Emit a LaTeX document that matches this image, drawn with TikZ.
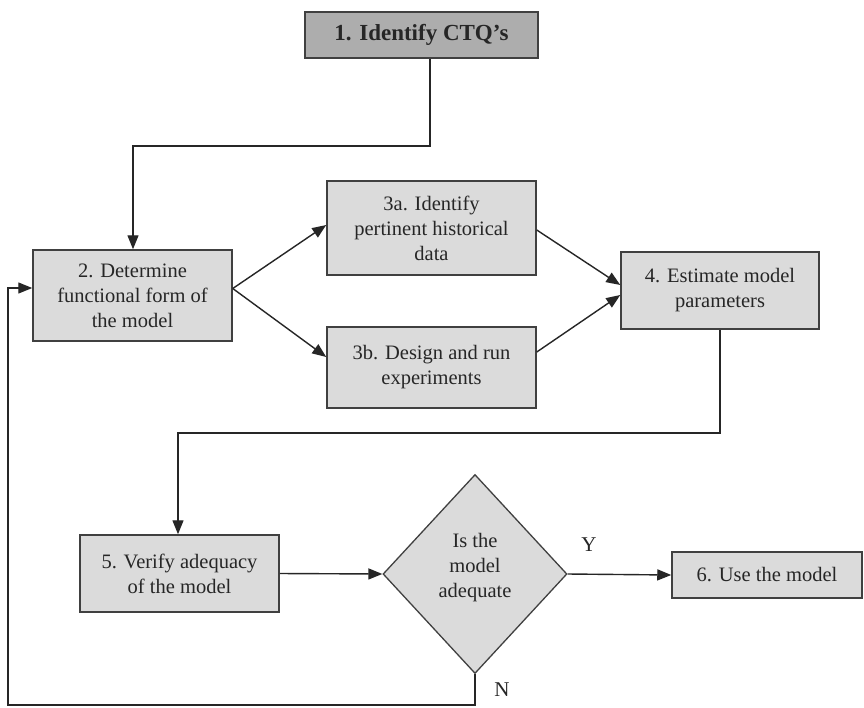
\documentclass[tikz,border=0pt]{standalone}
\usepackage{fontspec}
\setmainfont{Liberation Serif}
\usetikzlibrary{arrows.meta,shapes.geometric}
\begin{document}
\begin{tikzpicture}[x=1pt,y=-1pt,
  every node/.style={font=\fontsize{20.5}{25}\selectfont, text=black!85},
  boxs/.style={draw=black!75, line width=1.5pt, fill=black!14, align=center, inner sep=2pt},
  topbox/.style={boxs, fill=black!32, font=\fontsize{23}{26}\selectfont\bfseries},
  dec/.style={draw=black!75, line width=1.3pt, fill=black!14, shape=diamond, align=center, inner sep=0pt},
  arr/.style={draw=black!85, line width=1.4pt, -{Triangle[length=14pt,width=11pt]}},
  lbl/.style={font=\fontsize{21}{24}\selectfont}
]
\useasboundingbox[fill=white] (0,0) rectangle (864,707);

\node[topbox, minimum width=233, minimum height=46] (b1) at (421.5,35) {1. Identify CTQ’s};
\node[boxs, minimum width=199, minimum height=91] (b2) at (132.5,295.5) {2. Determine\\functional form of\\the model};
\node[boxs, minimum width=209, minimum height=94] (b3a) at (431.5,228) {3a. Identify\\pertinent historical\\data};
\node[boxs, minimum width=209, minimum height=81] (b3b) at (431.5,367.5) {3b. Design and run\\experiments};
\node[boxs, minimum width=198, minimum height=77] (b4) at (720,290.5) {4. Estimate model\\parameters};
\node[boxs, minimum width=199, minimum height=77] (b5) at (179.5,573.5) {5. Verify adequacy\\of the model};
\node[dec, minimum width=184, minimum height=199] (d) at (475,574) {Is the\\model\\adequate\\[-8pt]};
\node[boxs, minimum width=190, minimum height=46] (b6) at (767,575) {6. Use the model};

\coordinate (c1) at (430,146);
\coordinate (c2) at (133,146);
\coordinate (c3) at (720,433);
\coordinate (c4) at (178,433);
\coordinate (c5) at (475,705);
\coordinate (c6) at (8,705);
\coordinate (c7) at (8,288);

\draw[arr] (b1.south -| c1) -- (c1) -- (c2) -- (c2 |- b2.north);
\draw[arr] ([yshift=7pt]b2.east) -- ([yshift=3pt]b3a.west);
\draw[arr] ([yshift=7pt]b2.east) -- ([yshift=10.5pt]b3b.west);
\draw[arr] ([yshift=-2pt]b3a.east) -- ([yshift=5.5pt]b4.west);
\draw[arr] ([yshift=15.5pt]b3b.east) -- ([yshift=-4.5pt]b4.west);
\draw[arr] (b4.south -| c3) -- (c3) -- (c4) -- (c4 |- b5.north);
\draw[arr] (b5.east) -- (d.west);
\draw[arr] (d.east) -- (b6.west);
\draw[arr] (d.south) -- (c5) -- (c6) -- (c7) -- (c7 -| b2.west);

\node[lbl] (ly) at (589,545) {Y};
\node[lbl] (ln) at (502,690) {N};
\end{tikzpicture}
\end{document}
